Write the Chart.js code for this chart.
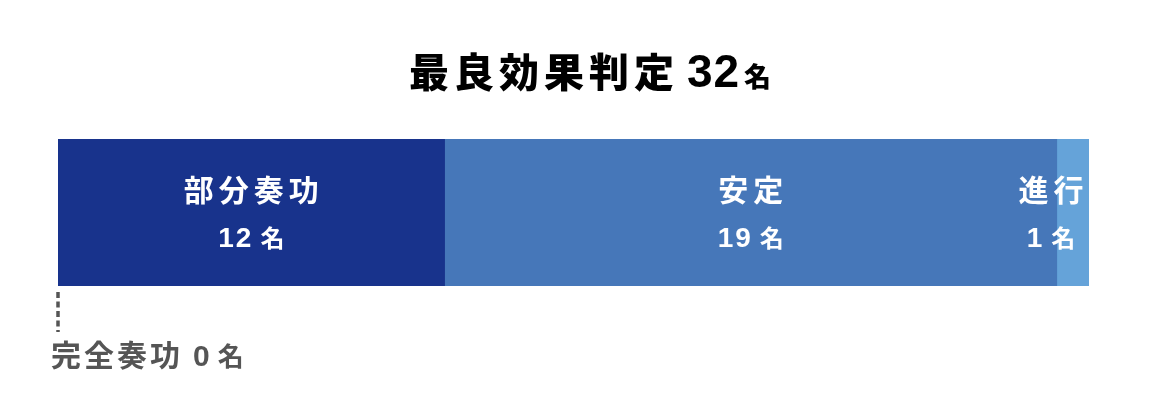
<!DOCTYPE html>
<html>
<head>
<meta charset="utf-8">
<script src="https://cdn.jsdelivr.net/npm/chart.js@4"></script>
<style>
  html, body { margin: 0; padding: 0; background: #ffffff; }
  #wrap { width: 1159px; height: 410px; }
</style>
</head>
<body>
<div id="wrap"><canvas id="responseChart"></canvas></div>
<script>
// Data
const categories = ['完全奏功', '部分奏功', '安定', '進行'];
const patientCounts = [0, 12, 19, 1];
const totalPatients = 32;
const titleText = '最良効果判定';
const unitText = '名';

const segmentColors = ['#18338c', '#18338c', '#4677b9', '#65a3d9'];

const jpFont = "'Noto Sans CJK JP', 'Noto Sans', sans-serif";
const numFont = "'Liberation Sans', Arial, sans-serif";

// draw runs of text [{text, font, spacing}] centred or left aligned at x
function drawRuns(ctx, runs, x, y, align, color) {
  ctx.save();
  ctx.fillStyle = color;
  ctx.textBaseline = 'alphabetic';
  ctx.textAlign = 'left';
  let total = 0;
  runs.forEach(r => {
    ctx.font = r.font;
    const chars = Array.from(r.text);
    chars.forEach((c, i) => {
      total += ctx.measureText(c).width;
      if (i < chars.length - 1) total += r.spacing || 0;
    });
    total += r.after || 0;
  });
  let cx = align === 'center' ? x - total / 2 : x;
  runs.forEach(r => {
    ctx.font = r.font;
    const chars = Array.from(r.text);
    chars.forEach((c, i) => {
      ctx.fillText(c, cx, y);
      cx += ctx.measureText(c).width;
      if (i < chars.length - 1) cx += r.spacing || 0;
    });
    cx += r.after || 0;
  });
  ctx.restore();
  return total;
}

const labelPlugin = {
  id: 'segmentLabels',
  afterDatasetsDraw(chart) {
    const ctx = chart.ctx;
    const area = chart.chartArea;
    const xScale = chart.scales.x;

    // title
    drawRuns(ctx, [
      { text: titleText, font: '900 40px ' + jpFont, spacing: 5, after: 13 },
      { text: String(totalPatients), font: 'bold 46px ' + numFont, spacing: 1, after: 5 },
      { text: unitText, font: '900 27px ' + jpFont }
    ], 590, 87, 'center', '#000000');

    chart.data.datasets.forEach((ds, i) => {
      const bar = chart.getDatasetMeta(i).data[0];
      const v = ds.data[0];
      if (v > 0) {
        let cx = (bar.base + bar.x) / 2;
        const half = 35;
        if (cx + half > area.right - 3) cx = area.right - 3 - half;
        drawRuns(ctx, [
          { text: ds.label, font: 'bold 30px ' + jpFont, spacing: 5 }
        ], cx, 201, 'center', '#ffffff');
        drawRuns(ctx, [
          { text: String(v), font: 'bold 28px ' + numFont, spacing: 2, after: 9 },
          { text: unitText, font: 'bold 24px ' + jpFont }
        ], cx, 247, 'center', '#ffffff');
      } else {
        // zero segment: dashed leader and label below the bar
        const px = xScale.getPixelForValue(0);
        ctx.save();
        ctx.strokeStyle = '#555555';
        ctx.lineWidth = 3.5;
        ctx.setLineDash([6, 3.5]);
        ctx.beginPath();
        ctx.moveTo(px, area.bottom + 6);
        ctx.lineTo(px, area.bottom + 46);
        ctx.stroke();
        ctx.restore();
        drawRuns(ctx, [
          { text: ds.label, font: 'bold 30px ' + jpFont, spacing: 3, after: 13 },
          { text: String(v), font: 'bold 30px ' + numFont, spacing: 0, after: 8 },
          { text: unitText, font: 'bold 26px ' + jpFont }
        ], px - 7, 366, 'left', '#555555');
      }
    });
  }
};

const datasets = categories.map((name, i) => ({
  label: name,
  data: [patientCounts[i]],
  backgroundColor: segmentColors[i],
  borderWidth: 0,
  barPercentage: 1,
  categoryPercentage: 1
}));

new Chart(document.getElementById('responseChart'), {
  type: 'bar',
  data: { labels: ['最良効果判定'], datasets: datasets },
  options: {
    indexAxis: 'y',
    responsive: true,
    maintainAspectRatio: false,
    animation: false,
    layout: { padding: { left: 58, right: 70, top: 139, bottom: 124 } },
    scales: {
      x: { stacked: true, min: 0, max: totalPatients, display: false },
      y: { stacked: true, display: false }
    },
    plugins: {
      legend: { display: false },
      tooltip: { enabled: false }
    }
  },
  plugins: [labelPlugin]
});
</script>
</body>
</html>
